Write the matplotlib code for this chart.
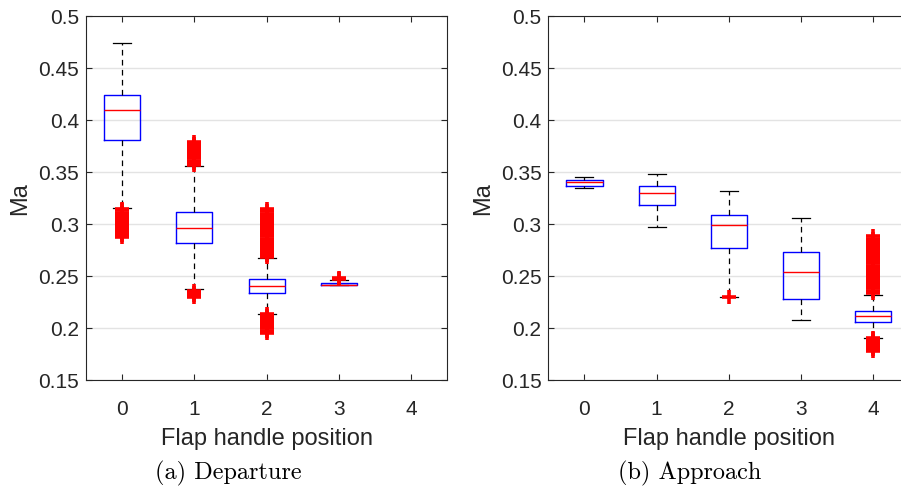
import matplotlib
matplotlib.use('Agg')
import matplotlib.pyplot as plt
import numpy as np

positions = [0, 1, 2, 3, 4]

# Departure (a)
dep_pos   = [0, 1, 2, 3]
dep_whislo = [0.3151, 0.2372, 0.2138, 0.2411]
dep_q1     = [0.3808, 0.2814, 0.2337, 0.2411]
dep_med    = [0.4096, 0.2962, 0.2407, 0.2415]
dep_q3     = [0.4243, 0.3112, 0.2474, 0.2436]
dep_whishi = [0.4737, 0.3560, 0.2670, 0.2464]
dep_fliers = [
    [0.2872, 0.289, 0.291, 0.293, 0.295, 0.297, 0.299, 0.301, 0.303, 0.305,
     0.307, 0.309, 0.311, 0.313, 0.3142],
    [0.357, 0.359, 0.361, 0.363, 0.365, 0.367, 0.369, 0.371, 0.373, 0.375,
     0.377, 0.3788, 0.2295, 0.2315, 0.2335, 0.2355],
    [0.268, 0.270, 0.272, 0.274, 0.276, 0.278, 0.280, 0.282, 0.284, 0.286,
     0.288, 0.290, 0.292, 0.294, 0.296, 0.298, 0.300, 0.302, 0.304, 0.306,
     0.308, 0.310, 0.312, 0.3145,
     0.1955, 0.1975, 0.1995, 0.2015, 0.2035, 0.2055, 0.2075, 0.2095, 0.2115, 0.2135],
    [0.2472, 0.2478],
]

# Approach (b)
app_pos   = [0, 1, 2, 3, 4]
app_whislo = [0.3346, 0.2968, 0.2301, 0.2074, 0.1900]
app_q1     = [0.3368, 0.3179, 0.2769, 0.2279, 0.2058]
app_med    = [0.3400, 0.3295, 0.2993, 0.2542, 0.2113]
app_q3     = [0.3423, 0.3362, 0.3084, 0.2728, 0.2166]
app_whishi = [0.3452, 0.3484, 0.3317, 0.3055, 0.2320]
app_fliers = [
    [],
    [],
    [0.2295],
    [],
    [0.234, 0.236, 0.238, 0.240, 0.242, 0.244, 0.246, 0.248, 0.250, 0.252,
     0.254, 0.256, 0.258, 0.260, 0.262, 0.264, 0.266, 0.268, 0.270, 0.272,
     0.274, 0.276, 0.278, 0.280, 0.282, 0.284, 0.286, 0.2885,
     0.1775, 0.1795, 0.1815, 0.1835, 0.1855, 0.1875, 0.1895, 0.1905],
]

yticks = [0.15, 0.2, 0.25, 0.3, 0.35, 0.4, 0.45, 0.5]
ytick_labels = ['0.15', '0.2', '0.25', '0.3', '0.35', '0.4', '0.45', '0.5']

plt.rcParams['font.family'] = ['Liberation Sans', 'DejaVu Sans']

fig = plt.figure(figsize=(9.01, 4.89), dpi=100)
ax1 = fig.add_axes([0.0955, 0.2209, 0.4007, 0.7444])
ax2 = fig.add_axes([0.6086, 0.2209, 0.4007, 0.7444])


def make_stats(lo, q1, med, q3, hi, fl):
    return [dict(whislo=a, q1=b, med=c, q3=d, whishi=e, fliers=f)
            for a, b, c, d, e, f in zip(lo, q1, med, q3, hi, fl)]


def draw(ax, pos, stats, caption, cap_x):
    ax.bxp(stats, positions=pos, widths=0.5,
           boxprops=dict(color='#0000ff', linewidth=1.0),
           medianprops=dict(color='#ff0000', linewidth=1.0),
           whiskerprops=dict(color='black', linewidth=0.9, linestyle=(0, (4.5, 3.5))),
           capprops=dict(color='black', linewidth=0.9),
           flierprops=dict(marker='+', markeredgecolor='#ff0000', markersize=9.5,
                           markeredgewidth=2.6, linestyle='none'),
           capwidths=0.25, manage_ticks=False)
    ax.set_xlim(-0.5, 4.5)
    ax.set_ylim(0.15, 0.5)
    ax.set_xticks(positions)
    ax.set_xticklabels([str(p) for p in positions])
    ax.set_yticks(yticks)
    ax.set_yticklabels(ytick_labels)
    ax.yaxis.grid(True, color='#e3e3e3', linewidth=1.0)
    ax.set_axisbelow(True)
    ax.tick_params(direction='in', top=True, right=True, length=4,
                   labelsize=15, colors='#262626')
    ax.tick_params(axis='x', pad=14)
    ax.tick_params(axis='y', pad=5)
    for s in ax.spines.values():
        s.set_color('#262626')
        s.set_linewidth(0.8)
    ax.set_xlabel('Flap handle position', fontsize=17, color='#262626', labelpad=6)
    ax.set_ylabel('Ma', fontsize=17, color='#262626', labelpad=5)
    fig.text(cap_x, 0.031, caption, ha='center', va='center',
             fontsize=17.5, family='cmr10')


draw(ax1, dep_pos, make_stats(dep_whislo, dep_q1, dep_med, dep_q3, dep_whishi, dep_fliers),
     '(a) Departure', 228 / 901)
draw(ax2, app_pos, make_stats(app_whislo, app_q1, app_med, app_q3, app_whishi, app_fliers),
     '(b) Approach', 690 / 901)

fig.savefig('out.png', dpi=100)
